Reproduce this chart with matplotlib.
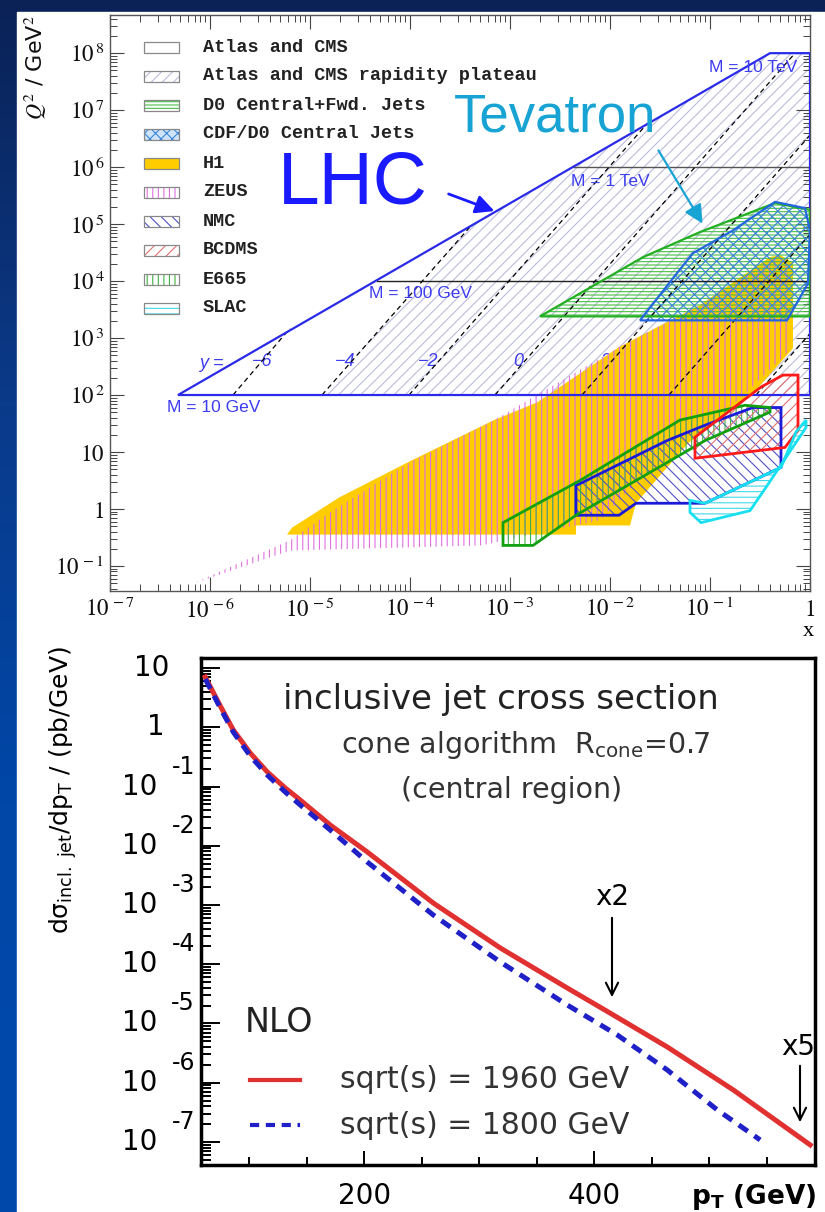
import numpy as np
import matplotlib.pyplot as plt
from matplotlib.patches import Polygon, Rectangle
from matplotlib.colors import LinearSegmentedColormap
from matplotlib.ticker import FixedLocator, NullFormatter, FuncFormatter

plt.rcParams['mathtext.fontset'] = 'stix'
plt.rcParams['hatch.linewidth'] = 0.8

W, H = 825, 1212

# ---------------- top panel data (log10 x, log10 Q^2) ----------------
lhc_logx = [-6.32, -0.40, 0.0, 0.0]
lhc_logq = [2.0, 8.0, 8.0, 2.0]
plateau_logx = [-4.88, -3.39, -0.40, 0.0, 0.0]
plateau_logq = [2.0, 4.97, 8.0, 8.0, 2.0]

mass_logq = [2.0, 4.0, 6.0, 8.0]
mass_start_logx = [-6.32, -4.33, -2.37, -0.40]
mass_labels = ['M = 10 GeV', 'M = 100 GeV', 'M = 1 TeV', 'M = 10 TeV']

rap_values = [-6, -4, -2, 0, 2, 4, 6]
rap_start_logx = [-5.77, -4.88, -4.01, -3.15, -2.28, -1.41, -0.54]
rap_end_logx = [-5.20, -3.39, -1.63, -0.15, 0.0, 0.0, 0.0]
rap_end_logq = [3.17, 4.97, 6.76, 8.0, 6.56, 4.82, 3.08]

d0_logx = [-2.70, -1.67, -1.10, -0.35, 0.0, 0.0]
d0_logq = [3.38, 4.42, 4.86, 5.37, 5.25, 3.38]
cdf_logx = [-1.70, -1.33, -1.17, -0.77, -0.35, -0.05, 0.0, -0.02, -0.23]
cdf_logq = [3.31, 4.14, 4.49, 4.89, 5.39, 5.28, 4.89, 3.96, 3.31]
h1_logx = [-5.23, -5.18, -4.71, -4.02, -3.16, -2.73, -1.91, -1.10, -0.40, -0.30,
           -0.17, -0.17, -0.57, -1.22, -1.74, -1.80, -2.34, -2.34]
h1_logq = [-0.45, -0.33, 0.20, 0.82, 1.56, 1.87, 2.84, 3.58, 4.42, 4.46,
           4.32, 2.82, 2.03, 1.15, 0.10, -0.29, -0.29, -0.45]
zeus_logx = [-6.17, -5.20, -4.80, -4.00, -3.16, -1.91, -1.10, -0.35, -0.20, -0.20,
             -0.70, -1.10, -1.70, -2.10, -3.29, -5.20]
zeus_logq = [-1.31, -0.55, -0.06, 0.82, 1.56, 2.84, 3.58, 4.40, 4.28, 2.79,
             1.94, 1.38, 0.54, -0.20, -0.64, -0.73]
nmc_logx = [-2.34, -1.43, -1.05, -0.57, -0.29, -0.29, -1.05, -1.74, -1.91, -2.34]
nmc_logq = [0.41, 1.20, 1.47, 1.78, 1.78, 0.73, 0.10, 0.10, -0.11, -0.11]
bcdms_logx = [-1.15, -1.15, -0.49, -0.27, -0.12, -0.12, -0.25]
bcdms_logq = [0.89, 1.26, 2.14, 2.35, 2.35, 1.38, 1.08]
e665_logx = [-3.07, -2.30, -1.30, -0.65, -0.40, -0.40, -1.05, -1.70, -2.34, -2.77, -3.07]
e665_logq = [-0.24, 0.50, 1.56, 1.82, 1.78, 1.70, 1.20, 0.54, -0.11, -0.64, -0.64]
slac_logx = [-1.20, -1.20, -1.09, -0.60, -0.44, -0.04, -0.04, -0.14, -0.29, -1.05]
slac_logq = [0.15, -0.06, -0.24, -0.03, 0.38, 1.43, 1.56, 1.35, 0.73, 0.10]

legend_labels = ['Atlas and CMS', 'Atlas and CMS rapidity plateau', 'D0 Central+Fwd. Jets',
                 'CDF/D0 Central Jets', 'H1', 'ZEUS', 'NMC', 'BCDMS', 'E665', 'SLAC']

top_x_decades = [-7, -6, -5, -4, -3, -2, -1, 0]
top_y_decades = [-1, 0, 1, 2, 3, 4, 5, 6, 7, 8]

# ---------------- bottom panel data ----------------
pt_1960 = [61.7, 74.8, 86.1, 100.9, 115.7, 131.3, 144.3, 170.4, 202.6, 260.0,
           318.3, 376.5, 412.2, 463.5, 520.9, 587.8]
xs_1960 = [7.05, 2.29, 0.90, 0.367, 0.176, 0.0944, 0.0592, 0.0224, 7.85e-3, 1.08e-3,
           1.88e-4, 3.97e-5, 1.56e-5, 4.01e-6, 7.55e-7, 8.9e-8]
pt_1800 = [61.7, 74.8, 86.1, 100.9, 115.7, 131.3, 144.3, 170.4, 202.6, 260.0,
           318.3, 376.5, 420.0, 463.5, 507.0, 544.3]
xs_1800 = [6.52, 2.11, 0.83, 0.327, 0.156, 0.0807, 0.0488, 0.01845, 5.32e-3, 6.78e-4,
           1.09e-4, 2.05e-5, 6.4e-6, 1.64e-6, 3.47e-7, 1.08e-7]
pt_major = [200, 400]
pt_minor = [100, 150, 250, 300, 350, 450, 500, 550]
bottom_decades = [1, 0, -1, -2, -3, -4, -5, -6, -7]


def fx(px):
    return px / W


def fy(py):
    return 1 - py / H


def log_minors(decades):
    out = []
    for d in decades:
        out += [m * 10.0 ** d for m in range(2, 10)]
    return out


fig = plt.figure(figsize=(8.25, 12.12), dpi=100)

# slide background
bg = fig.add_axes([0, 0, 1, 1], zorder=-10)
cmap = LinearSegmentedColormap.from_list('slide', ['#0a2256', '#0a3a8a', '#0047a8', '#0049ab'])
bg.imshow(np.linspace(0, 1, 256).reshape(-1, 1), cmap=cmap, aspect='auto',
          extent=[0, 1, 0, 1], origin='upper')
bg.add_patch(Rectangle((17 / W, 0), 1, 1 - 12 / H, color='white', transform=bg.transAxes))
bg.set_xlim(0, 1)
bg.set_ylim(0, 1)
bg.axis('off')

######################################################
#                 top panel: x - Q^2
######################################################
ax1 = fig.add_axes([fx(110), fy(591), 700 / W, 576 / H])
ax1.set_xscale('log')
ax1.set_yscale('log')
ax1.set_xlim(1e-7, 1)
ax1.set_ylim(10 ** -1.44, 10 ** 8.67)


def a1x(px):
    return (px - 110) / 700


def a1y(py):
    return (591 - py) / 576


def poly(ax, lx, lq, **kw):
    pts = np.column_stack([10 ** np.array(lx), 10 ** np.array(lq)])
    ax.add_patch(Polygon(pts, closed=True, **kw))


# LHC
poly(ax1, plateau_logx, plateau_logq, fill=False, hatch='///', edgecolor='#bcbcdc', lw=0, zorder=1)
poly(ax1, lhc_logx, lhc_logq, fill=False, edgecolor='#2a2ae8', lw=1.6, zorder=6)
for q, x0, col in zip(mass_logq[1:3], mass_start_logx[1:3], ['#222222', '#555555']):
    ax1.plot([10 ** x0, 1], [10 ** q, 10 ** q], color=col, lw=1.0, zorder=5)
for xs, xe, qe in zip(rap_start_logx, rap_end_logx, rap_end_logq):
    ax1.plot([10 ** xs, 10 ** xe], [1e2, 10 ** qe], color='black', lw=0.9,
             dashes=(4, 3), zorder=5)

# rapidity labels
ax1.text(a1x(199), a1y(363), 'y =', transform=ax1.transAxes, color='#3c3cf0',
         fontsize=13, style='italic', family='Liberation Sans', va='center', zorder=2)
rap_px = [262, 345, 428, 518, 605, 692, 763]
for r, px in zip(rap_values, rap_px):
    lab = '\u2212%d' % abs(r) if r < 0 else '%d' % r
    ax1.text(a1x(px), a1y(362), lab, transform=ax1.transAxes, color='#3c3cf0',
             fontsize=13, style='italic', family='Liberation Sans', ha='center', va='center', zorder=2)

mass_pos = [(167, 408), (369, 293), (571, 181), (709, 67)]
for lab, (px, py) in zip(mass_labels, mass_pos):
    ax1.text(a1x(px), a1y(py), lab, transform=ax1.transAxes, color='#3c3cf0',
             fontsize=12.5, family='Liberation Sans', va='center', zorder=7)

# Tevatron
poly(ax1, d0_logx, d0_logq, fill=False, hatch='-----', edgecolor='#44c044', lw=0, zorder=3.5)
poly(ax1, d0_logx, d0_logq, fill=False, edgecolor='#22b022', lw=1.6, zorder=6)
poly(ax1, cdf_logx, cdf_logq, fill=False, hatch='xxx', edgecolor='#3a86d8', lw=0, zorder=3.6)
poly(ax1, cdf_logx, cdf_logq, fill=False, edgecolor='#2266e0', lw=1.6, zorder=6)

# HERA
poly(ax1, h1_logx, h1_logq, facecolor='#ffcc00', edgecolor='none', zorder=3)
poly(ax1, zeus_logx, zeus_logq, fill=False, hatch='|||', edgecolor='#e070e0', lw=0, zorder=3.2)

# fixed target
poly(ax1, nmc_logx, nmc_logq, fill=False, hatch='\\\\\\', edgecolor='#5050c8', lw=0, zorder=3.3)
poly(ax1, nmc_logx, nmc_logq, fill=False, edgecolor='#1a1ad8', lw=2, zorder=6)
poly(ax1, e665_logx, e665_logq, fill=False, hatch='|||', edgecolor='#40b040', lw=0, zorder=3.3)
poly(ax1, e665_logx, e665_logq, fill=False, edgecolor='#10a010', lw=2, zorder=6)
poly(ax1, bcdms_logx, bcdms_logq, fill=False, hatch='///', edgecolor='#e07070', lw=0, zorder=3.3)
poly(ax1, bcdms_logx, bcdms_logq, fill=False, edgecolor='#ff1a1a', lw=2, zorder=6)
poly(ax1, slac_logx, slac_logq, fill=False, hatch='---', edgecolor='#40d8e8', lw=0, zorder=3.3)
poly(ax1, slac_logx, slac_logq, fill=False, edgecolor='#18e0f0', lw=2, zorder=6)

# legend
leg_style = [(None, None, None), (None, '///', '#bcbcdc'), (None, '-----', '#44c044'),
             ('#cfe4f8', 'xxx', '#3a86d8'), ('#ffcc00', None, None), (None, '|||', '#e070e0'),
             (None, '\\\\\\', '#5050c8'), (None, '///', '#e07070'), (None, '|||', '#40b040'),
             (None, '---', '#40d8e8')]
for i, (lab, (fc, hatch, hc)) in enumerate(zip(legend_labels, leg_style)):
    yc = 47 + 29 * i
    x0, y0 = a1x(144), a1y(yc + 5.5)
    wdt, hgt = 35 / 700, 11 / 576
    if fc is not None:
        ax1.add_patch(Rectangle((x0, y0), wdt, hgt, facecolor=fc, edgecolor='none',
                                transform=ax1.transAxes, zorder=8))
    if hatch is not None:
        ax1.add_patch(Rectangle((x0, y0), wdt, hgt, fill=False, hatch=hatch, edgecolor=hc,
                                lw=0, transform=ax1.transAxes, zorder=8))
    ax1.add_patch(Rectangle((x0, y0), wdt, hgt, fill=False, edgecolor='#888888', lw=0.9,
                            transform=ax1.transAxes, zorder=9))
    ax1.text(a1x(203), a1y(yc), lab, transform=ax1.transAxes, family='Liberation Mono',
             fontweight='bold', fontsize=13.3, color='#222222', va='center', zorder=9)

# big labels and arrows
ax1.text(a1x(278), a1y(184), 'LHC', transform=ax1.transAxes, color='#1a1aff', fontsize=54,
         family='Liberation Sans', va='center', zorder=10)
ax1.annotate('', xy=(a1x(497), a1y(212)), xytext=(a1x(446), a1y(193)), xycoords='axes fraction',
             arrowprops=dict(arrowstyle='-|>', color='#1a1aff', lw=2, mutation_scale=28), zorder=10)
ax1.text(a1x(454), a1y(118), 'Tevatron', transform=ax1.transAxes, color='#17a3d4', fontsize=38,
         family='Liberation Sans', va='center', zorder=10)
ax1.annotate('', xy=(a1x(704), a1y(226)), xytext=(a1x(657), a1y(148)), xycoords='axes fraction',
             arrowprops=dict(arrowstyle='-|>', color='#17a3d4', lw=1.6, mutation_scale=28), zorder=10)


def top_fmt(v, pos):
    e = int(round(np.log10(v)))
    if e == 0:
        return r'$1$'
    if e == 1:
        return r'$10$'
    return r'$10^{\,%d}$' % e


ax1.xaxis.set_major_locator(FixedLocator([10.0 ** d for d in top_x_decades]))
ax1.yaxis.set_major_locator(FixedLocator([10.0 ** d for d in top_y_decades]))
ax1.xaxis.set_minor_locator(FixedLocator(log_minors(top_x_decades[:-1])))
ax1.yaxis.set_minor_locator(FixedLocator(log_minors([-2] + top_y_decades)))
ax1.xaxis.set_major_formatter(FuncFormatter(top_fmt))
ax1.yaxis.set_major_formatter(FuncFormatter(top_fmt))
ax1.xaxis.set_minor_formatter(NullFormatter())
ax1.yaxis.set_minor_formatter(NullFormatter())
ax1.tick_params(which='both', direction='in', top=True, right=True, colors='#444444',
                labelcolor='#111111', labelsize=16.5)
ax1.tick_params(which='major', length=10, width=0.8)
ax1.tick_params(which='minor', length=5, width=0.7)
ax1.tick_params(axis='x', pad=5)
ax1.tick_params(axis='y', pad=4)
for s in ax1.spines.values():
    s.set_color('#555555')
    s.set_linewidth(1.0)
ax1.text(a1x(803), a1y(632), 'x', transform=ax1.transAxes, fontsize=16, family='Liberation Serif',
         va='center')
fig.text(fx(36), fy(68), r'$Q^2$ / GeV$^2$', rotation=90, fontsize=16, ha='center', va='center',
         color='#111111')

######################################################
#           bottom panel: inclusive jet x-section
######################################################
ax2 = fig.add_axes([fx(201), fy(1165), 614 / W, 507 / H])
ax2.set_yscale('log')
ax2.set_xlim(58, 592)
ax2.set_ylim(10 ** -7.39, 10 ** 1.17)


def a2x(px):
    return (px - 201) / 614


def a2y(py):
    return (1165 - py) / 507


ax2.plot(pt_1960, xs_1960, color='#e03030', lw=3.6, zorder=4)
ax2.plot(pt_1800, xs_1800, color='#2020c8', lw=3.6, dashes=(2.2, 1.6), zorder=5)

ax2.xaxis.set_major_locator(FixedLocator(pt_major))
ax2.xaxis.set_minor_locator(FixedLocator(pt_minor))
ax2.yaxis.set_major_locator(FixedLocator([10.0 ** d for d in bottom_decades]))
ax2.yaxis.set_minor_locator(FixedLocator(log_minors([-8] + bottom_decades[1:] + [1])))
ax2.yaxis.set_major_formatter(NullFormatter())
ax2.yaxis.set_minor_formatter(NullFormatter())
ax2.tick_params(which='both', direction='in', width=1.4)
ax2.tick_params(axis='y', which='major', length=14)
ax2.tick_params(axis='y', which='minor', length=7)
ax2.tick_params(axis='x', which='major', length=10, labelsize=20, pad=12)
ax2.tick_params(axis='x', which='minor', length=6)
for lab in ax2.get_xticklabels():
    lab.set_family('DejaVu Sans')
for s in ax2.spines.values():
    s.set_linewidth(2.5)

# y tick labels drawn as "10" with a detached exponent
for e in bottom_decades:
    v = 10.0 ** e
    if e == 1:
        ax2.annotate('10', xy=(0, v), xycoords=('axes fraction', 'data'), xytext=(-22.5, 0),
                     textcoords='offset points', ha='right', va='center', fontsize=20, family='DejaVu Sans')
    elif e == 0:
        ax2.annotate('1', xy=(0, v), xycoords=('axes fraction', 'data'), xytext=(-26, 0),
                     textcoords='offset points', ha='right', va='center', fontsize=20, family='DejaVu Sans')
    else:
        ax2.annotate('10', xy=(0, v), xycoords=('axes fraction', 'data'), xytext=(-31.7, 0),
                     textcoords='offset points', ha='right', va='center', fontsize=20, family='DejaVu Sans')
        ax2.annotate('-%d' % abs(e), xy=(0, v), xycoords=('axes fraction', 'data'), xytext=(-4.3, 14.4),
                     textcoords='offset points', ha='right', va='center', fontsize=17, family='DejaVu Sans')

fig.text(fx(63), fy(790), r'd$\mathregular{\sigma_{incl.\ jet}}$/dp$_\mathregular{T}$ / (pb/GeV)',
         rotation=90, fontsize=18, family='DejaVu Sans', math_fontfamily='dejavusans',
         ha='center', va='center')
ax2.text(a2x(816), a2y(1197), r'$\mathbf{p_{T}}$ (GeV)', transform=ax2.transAxes, fontsize=19,
         fontweight='bold', family='DejaVu Sans', math_fontfamily='dejavusans', ha='right', va='center',
         clip_on=False)

ax2.text(a2x(501), a2y(700), 'inclusive jet cross section', transform=ax2.transAxes, fontsize=24.5,
         family='DejaVu Sans', ha='center', va='center', color='#222222')
ax2.text(a2x(525), a2y(745), r'cone algorithm  R$_\mathregular{cone}$=0.7', transform=ax2.transAxes,
         fontsize=20.5, family='DejaVu Sans', math_fontfamily='dejavusans', ha='center', va='center',
         color='#333333')
ax2.text(a2x(512), a2y(790), '(central region)', transform=ax2.transAxes, fontsize=20.5,
         family='DejaVu Sans', ha='center', va='center', color='#333333')
ax2.text(a2x(245), a2y(1022), 'NLO', transform=ax2.transAxes, fontsize=24, family='DejaVu Sans',
         va='center', color='#222222')
ax2.plot([a2x(250), a2x(300)], [a2y(1080), a2y(1080)], transform=ax2.transAxes, color='#e03030', lw=3)
ax2.plot([a2x(250), a2x(300)], [a2y(1125), a2y(1125)], transform=ax2.transAxes, color='#2020c8', lw=3,
         dashes=(2.2, 1.6))
ax2.text(a2x(340), a2y(1080), 'sqrt(s) = 1960 GeV', transform=ax2.transAxes, fontsize=21.5,
         family='DejaVu Sans', va='center', color='#333333')
ax2.text(a2x(340), a2y(1125), 'sqrt(s) = 1800 GeV', transform=ax2.transAxes, fontsize=21.5,
         family='DejaVu Sans', va='center', color='#333333')

# scale-factor arrows
ax2.text(a2x(612), a2y(897), 'x2', transform=ax2.transAxes, fontsize=20, family='DejaVu Sans',
         ha='center', va='center')
ax2.annotate('', xy=(a2x(612), a2y(1000)), xytext=(a2x(612), a2y(915)), xycoords='axes fraction',
             arrowprops=dict(arrowstyle='->', color='black', lw=1.5, mutation_scale=22))
ax2.text(a2x(798), a2y(1047), 'x5', transform=ax2.transAxes, fontsize=20, family='DejaVu Sans',
         ha='center', va='center')
ax2.annotate('', xy=(a2x(800), a2y(1125)), xytext=(a2x(800), a2y(1063)), xycoords='axes fraction',
             arrowprops=dict(arrowstyle='->', color='black', lw=1.5, mutation_scale=22))

fig.savefig('out.png', dpi=100)
